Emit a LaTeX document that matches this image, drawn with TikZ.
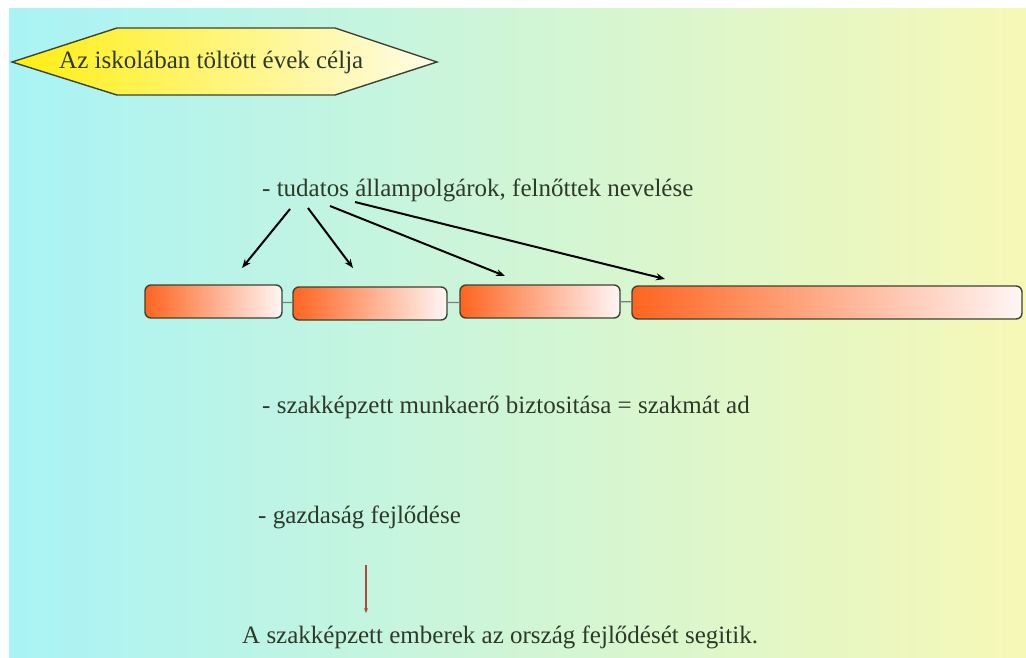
\documentclass[tikz,border=0pt]{standalone}
\usepackage{fontspec}
\setmainfont{Liberation Serif}
\usetikzlibrary{arrows.meta,positioning}
\definecolor{ink}{HTML}{2E3A28}
\definecolor{cyanbg}{HTML}{A9F3F6}
\definecolor{mintbg}{HTML}{CDF8D6}
\definecolor{lemonbg}{HTML}{F6F8B6}
\definecolor{sun}{HTML}{FFEE10}
\definecolor{cream}{HTML}{FFFCE8}
\definecolor{edge}{HTML}{3D4330}
\definecolor{flame}{HTML}{FF6420}
\definecolor{blush}{HTML}{FFF6F6}
\definecolor{rust}{HTML}{B0483A}
\definecolor{joint}{HTML}{6F8484}

\begin{document}
\begin{tikzpicture}[x=1pt,y=-1pt,
  txt/.style={anchor=west,inner sep=0pt,text=ink,font=\fontsize{25}{30}\selectfont},
  bar/.style={draw=edge,line width=1.4pt,rounded corners=6pt,left color=flame,right color=blush,minimum height=33pt,inner sep=0pt},
  arr/.style={line width=2pt,-{Stealth[length=9pt,width=7pt]}}]
  \useasboundingbox (0,0) rectangle (1026,657);
  % background
  \shade[left color=cyanbg,middle color=mintbg,right color=lemonbg] (9,8) rectangle (1026,657);
  % title
  \shade[draw=edge,line width=1.4pt,left color=sun,right color=cream]
    (12,62) -- (117,28) -- (335,28) -- (437,62) -- (335,95) -- (117,95) -- cycle;
  \node[txt] (goal) at (59,62) {Az iskolában töltött évek célja};
  % first aim
  \node[txt] (tud) at (262,190) {- tudatos állampolgárok, felnőttek nevelése};
  \node[bar,minimum width=137pt] (b1) at (213.5,301.5) {};
  \node[bar,minimum width=154pt] (b2) at (370,303.5) {};
  \node[bar,minimum width=160pt] (b3) at (540,301.5) {};
  \node[bar,minimum width=390pt] (b4) at (827,302.5) {};
  \draw[joint,line width=1.2pt] (b1) -- (b2);
  \draw[joint,line width=1.2pt] (b2) -- (b3);
  \draw[joint,line width=1.2pt] (b3) -- (b4);
  \coordinate (t1) at (290,209); \coordinate (e1) at (242,268);
  \coordinate (t2) at (308,208); \coordinate (e2) at (353,268);
  \coordinate (t3) at (330,206); \coordinate (e3) at (505,276);
  \coordinate (t4) at (355,202); \coordinate (e4) at (665,279);
  \draw[arr] (t1) -- (e1);
  \draw[arr] (t2) -- (e2);
  \draw[arr] (t3) -- (e3);
  \draw[arr] (t4) -- (e4);
  % other aims
  \node[txt] (szak) at (262,407) {- szakképzett munkaerő biztositása = szakmát ad};
  \node[txt] (gaz) at (258,517) {- gazdaság fejlődése};
  \coordinate (r1) at (366,565); \coordinate (r2) at (366,613);
  \draw[rust,line width=1.5pt,-{Stealth[length=5pt,width=4pt]}] (r1) -- (r2);
  \node[txt] (bot) at (242,637) {A szakképzett emberek az ország fejlődését segitik.};
\end{tikzpicture}
\end{document}
